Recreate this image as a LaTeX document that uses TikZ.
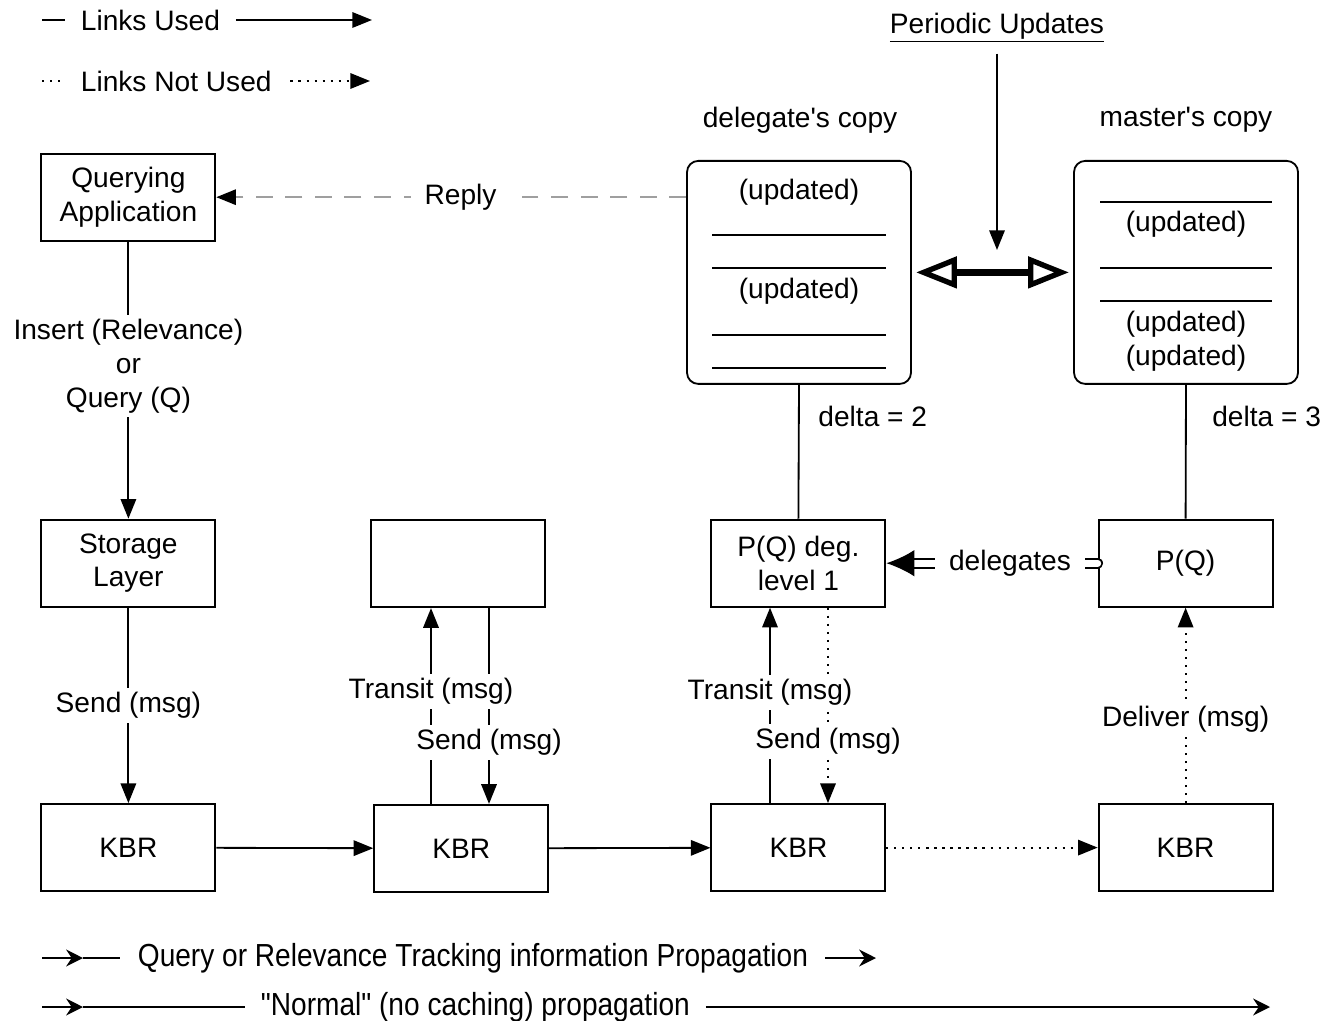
\documentclass[tikz,border=0pt]{standalone}
\usepackage{fontspec}
\setmainfont{Liberation Sans}
\newfontfamily\narrowsf{Liberation Sans}[FakeStretch=0.88]
\usetikzlibrary{arrows.meta,positioning}

\begin{document}
\begin{tikzpicture}[font=\fontsize{20}{24}\selectfont, >={Triangle[length=14pt,width=11pt]}, line width=1.3pt,
box/.style={draw, minimum width=4.35cm, minimum height=2.18cm, inner sep=0pt, align=center},
copybox/.style={draw, rounded corners=8pt, minimum width=5.6cm, minimum height=5.575cm, inner sep=0pt},
lbl/.style={fill=white, inner xsep=3pt, inner ysep=3pt, align=center},
notused/.style={dash pattern=on 1.5pt off 4.2pt},
reply/.style={gray!75, dash pattern=on 12pt off 9pt},
sync/.style={line width=5pt, {Triangle[open,length=29pt,width=22pt,line width=3.8pt]}-{Triangle[open,length=29pt,width=22pt,line width=3.8pt]}},
deleg/.style={double, double distance=5pt, line cap=round, -{Latex[length=20pt,width=19pt]}},
prop/.style={-{Stealth[length=12pt,width=12pt,inset=4pt]}},
note/.style={font=\narrowsf\fontsize{22.7}{27}\selectfont, inner sep=0pt}]

\useasboundingbox (0,0) rectangle (33.225,-25.525);

% legend
\node[anchor=west, inner sep=0pt] (legUsed) at (2.0,-0.5) {Links Used};
\node[anchor=west, inner sep=0pt] (legNot) at (2.0,-2.025) {Links Not Used};
\draw (1.05,-0.5) -- (1.625,-0.5);
\draw[->] ([xshift=0.375cm]legUsed.east) -- (9.3,-0.5);
\draw[notused] (1.05,-2.025) -- (1.625,-2.025);
\draw[->, notused] ([xshift=0.45cm]legNot.east) -- (9.25,-2.025);

% copies
\node (periodic) at (24.925,-0.7) {\underline{Periodic Updates}};
\node (dlabel) at (20.0,-3.0) {delegate\textquotesingle s copy};
\node (mlabel) at (29.65,-3.0) {master\textquotesingle s copy};
\node[copybox] (dcopy) at (19.975,-6.81) {};
\node[copybox] (mcopy) at (29.65,-6.81) {};
\node (du1) at (19.975,-4.8) {(updated)};
\node (du2) at (19.975,-7.275) {(updated)};
\node (mu1) at (29.65,-5.6) {(updated)};
\node[align=center] (mu2) at (29.65,-8.53) {(updated)\\(updated)};
\foreach \y in {-5.875,-6.7,-8.375,-9.2} \draw[line width=1pt] (17.8,\y) -- (22.15,\y);
\foreach \y in {-5.05,-6.7,-7.525} \draw[line width=1pt] (27.5,\y) -- (31.8,\y);
\coordinate (pu) at (24.925,-6.25);
\draw[->, shorten <=4pt] (periodic) -- (pu);
\draw[sync, shorten <=3pt, shorten >=3pt] (dcopy.east) -- (mcopy.west);

% boxes
\node[box] (query) at (3.21,-4.93) {Querying\\Application};
\node[box] (storage) at (3.21,-14.08) {Storage\\Layer};
\node[box] (relay) at (11.46,-14.09) {};
\node[box] (pqdeg) at (19.96,-14.08) {P(Q) deg.\\level 1};
\node[box] (pq) at (29.64,-14.08) {P(Q)};
\node[box] (kbrA) at (3.21,-21.19) {KBR};
\node[box] (kbrB) at (11.53,-21.21) {KBR};
\node[box] (kbrC) at (19.96,-21.19) {KBR};
\node[box] (kbrD) at (29.64,-21.19) {KBR};

\draw[reply, -{Triangle[length=14pt,width=11pt,color=black]}] (query.east -| dcopy.west) -- node[lbl, inner xsep=10pt, text=black, pos=0.48] {Reply} (query.east);
\draw[->] (query) -- node[lbl, pos=0.45] {Insert (Relevance)\\or\\Query (Q)} (storage);
\draw[->] (storage) -- node[lbl] {Send (msg)} (kbrA);
\draw[->] (kbrA) -- (kbrB);
\draw[->] (kbrB) -- (kbrC);
\draw[->, notused] (kbrC) -- (kbrD);

\draw[->] ([xshift=0.765cm]relay.south) -- ([xshift=0.765cm]relay.south |- kbrB.north);
\draw[->] ([xshift=-0.755cm]kbrB.north) -- node[lbl, pos=0.575] {Transit (msg)} ([xshift=-0.755cm]kbrB.north |- relay.south);
\path ([xshift=0.765cm]relay.south) -- node[lbl, pos=0.685] {Send (msg)} ([xshift=0.765cm]relay.south |- kbrB.north);

\draw[->, notused] ([xshift=0.74cm]pqdeg.south) -- ([xshift=0.74cm]pqdeg.south |- kbrC.north);
\draw[->] ([xshift=-0.71cm]kbrC.north) -- node[lbl, pos=0.565] {Transit (msg)} ([xshift=-0.71cm]kbrC.north |- pqdeg.south);
\path ([xshift=0.74cm]pqdeg.south) -- node[lbl, pos=0.685] {Send (msg)} ([xshift=0.74cm]pqdeg.south |- kbrC.north);

\draw[->, notused] (kbrD) -- node[lbl, pos=0.43] {Deliver (msg)} (pq);
\draw (dcopy.south) -- node[pos=0.24, right=0.35cm] {delta = 2} (pqdeg.north);
\draw (mcopy.south) -- node[pos=0.24, right=0.52cm] {delta = 3} (pq.north);
\draw[deleg] (pq) -- node[lbl, inner xsep=10pt, pos=0.415] {delegates} (pqdeg);

% propagation legend
\coordinate (qa) at (1.05,-23.95);
\coordinate (qb) at (2.075,-23.95);
\coordinate (qc) at (3.0,-23.95);
\draw[prop] (qa) -- (qb);
\draw (qb) -- (qc);
\node[note, anchor=west] (qnote) at (3.425,-23.95) {Query or Relevance Tracking information Propagation};
\draw[prop] ([xshift=0.4cm]qnote.east) -- ++(1.275,0);
\coordinate (na) at (1.05,-25.175);
\coordinate (nb) at (2.075,-25.175);
\coordinate (nc) at (6.125,-25.175);
\coordinate (nd) at (31.75,-25.175);
\draw[prop] (na) -- (nb);
\draw (nb) -- (nc);
\node[note, anchor=west] (nnote) at (6.5,-25.175) {"Normal" (no caching) propagation};
\draw[prop] ([xshift=0.375cm]nnote.east) -- (nd);
\end{tikzpicture}
\end{document}
